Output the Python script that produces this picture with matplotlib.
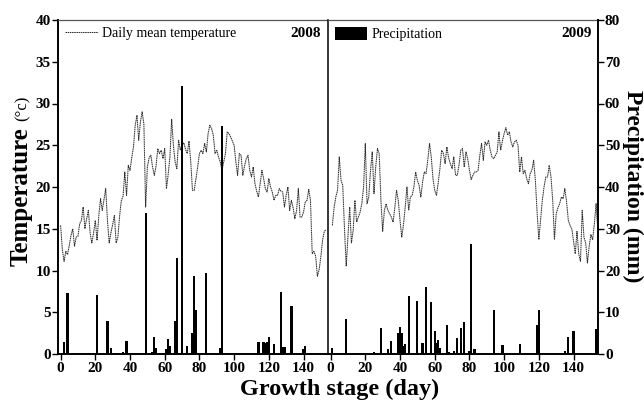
import matplotlib
matplotlib.use("Agg")
import matplotlib.pyplot as plt
from matplotlib.font_manager import FontProperties

plt.rcParams['font.family'] = ['Liberation Serif', 'DejaVu Serif']

# ---------------- data ----------------
days_t2008 = list(range(0, 154))
temp_2008 = [15.4, 12.5, 11.1, 12.3, 11.9, 13.0, 14.2, 15.0, 12.9, 14.0,
             14.1, 15.6, 16.0, 17.6, 15.0, 16.2, 17.2, 14.5, 13.3, 14.5,
             16.0, 13.6, 16.5, 18.6, 17.2, 18.5, 19.8, 16.0, 13.3, 14.5,
             15.5, 16.6, 13.3, 14.0, 16.5, 18.4, 18.9, 21.8, 19.0, 22.6,
             22.0, 23.5, 24.8, 27.4, 28.6, 25.6, 27.8, 29.0, 27.5, 17.6,
             22.4, 23.5, 23.8, 22.4, 21.4, 22.5, 24.6, 24.0, 24.4, 23.4,
             24.6, 19.8, 21.5, 23.6, 28.1, 25.0, 23.0, 22.2, 25.6, 24.4,
             25.0, 25.3, 24.5, 24.0, 25.5, 23.0, 19.6, 19.6, 21.0, 22.4,
             24.0, 24.4, 24.0, 25.2, 24.2, 26.4, 27.4, 27.0, 26.2, 24.0,
             24.4, 23.6, 23.0, 22.0, 23.0, 24.0, 26.6, 26.4, 26.0, 25.5,
             25.0, 23.0, 21.4, 24.0, 23.8, 21.4, 22.5, 23.4, 23.8, 22.0,
             21.2, 22.4, 20.4, 19.5, 18.8, 20.4, 22.0, 21.0, 19.8, 19.4,
             21.0, 20.0, 19.4, 18.4, 19.0, 19.0, 19.8, 19.5, 19.4, 17.6,
             19.0, 20.0, 17.2, 18.4, 17.5, 16.2, 17.2, 19.8, 16.4, 16.4,
             17.0, 18.2, 18.4, 19.7, 18.4, 12.0, 12.3, 11.7, 9.3, 10.1,
             11.7, 13.7, 14.7, 14.9]

days_t2009 = list(range(1, 155))
temp_2009 = [15.4, 17.5, 18.8, 19.6, 23.6, 20.8, 20.2, 15.0, 10.5, 14.0,
             17.6, 13.3, 14.8, 18.4, 15.8, 16.4, 17.0, 18.0, 20.0, 25.2,
             18.0, 18.8, 22.0, 24.2, 19.2, 22.4, 24.6, 24.0, 18.4, 14.7,
             17.2, 18.0, 17.2, 16.8, 16.4, 15.8, 17.5, 19.6, 18.4, 16.0,
             14.0, 15.5, 17.6, 20.0, 17.2, 18.8, 19.0, 20.0, 21.8, 20.8,
             20.2, 18.8, 20.6, 21.8, 21.6, 23.2, 25.2, 23.6, 21.0, 19.6,
             19.0, 20.5, 22.2, 24.4, 24.0, 22.8, 24.8, 23.5, 22.8, 22.2,
             23.6, 21.4, 21.4, 22.6, 24.4, 24.6, 22.4, 24.2, 23.4, 22.0,
             20.9, 21.4, 21.8, 21.8, 22.0, 23.8, 25.2, 23.2, 25.4, 25.0,
             25.6, 24.4, 23.6, 23.4, 23.8, 24.2, 26.6, 24.4, 25.5, 26.4,
             27.1, 26.2, 26.6, 25.4, 24.8, 25.4, 25.6, 25.0, 21.8, 23.6,
             21.6, 22.0, 21.0, 20.4, 21.6, 22.0, 23.2, 20.8, 17.0, 13.7,
             16.0, 18.4, 20.0, 21.2, 21.2, 22.6, 21.2, 18.4, 13.7, 16.8,
             17.5, 18.0, 18.8, 18.6, 19.8, 18.2, 16.0, 15.4, 15.0, 13.5,
             12.0, 14.7, 12.0, 11.1, 17.2, 14.0, 13.3, 10.9, 12.9, 14.3,
             13.7, 15.6, 18.0, 14.9]

rain_days_2008 = [2, 4, 16, 21, 27, 29, 31, 32, 36, 38, 49, 53, 54, 55, 59, 61,
                  62, 63, 66, 67, 70, 73, 76, 77, 78, 79, 84, 92, 93, 113, 114,
                  117, 118, 119, 120, 123, 127, 128, 129, 133, 140, 141, 145]
rain_2008 = [2.9, 14.5, 0.3, 14.1, 7.9, 1.5, 0.2, 0.2, 0.4, 3.1, 33.8, 0.4, 4.0,
             1.4, 0.2, 1.3, 3.7, 2.0, 7.9, 23.0, 64.2, 1.8, 5.0, 18.6, 10.6,
             0.3, 19.4, 1.5, 54.6, 0.3, 2.9, 2.9, 2.6, 2.8, 4.1, 2.4, 14.8,
             1.7, 1.7, 11.4, 1.2, 1.8, 0.2]

rain_days_2009 = [1, 9, 15, 16, 25, 29, 33, 35, 39, 40, 41, 42, 43, 45, 50, 53,
                  55, 58, 60, 61, 62, 63, 67, 68, 70, 71, 73, 75, 77, 80, 81, 83,
                  94, 99, 109, 112, 119, 120, 128, 135, 137, 140, 153]
rain_2009 = [1.4, 8.4, 0.2, 0.2, 0.4, 6.2, 1.3, 3.0, 5.0, 6.5, 5.0, 2.0, 2.4,
             13.9, 12.6, 2.6, 16.0, 12.5, 5.4, 2.6, 3.4, 1.4, 6.9, 0.4, 0.2,
             0.6, 3.8, 6.2, 7.6, 0.6, 26.3, 1.3, 10.5, 2.1, 2.5, 0.2, 6.9,
             10.5, 0.2, 0.6, 4.1, 5.4, 6.0]

x_ticks = [0, 20, 40, 60, 80, 100, 120, 140]
temp_ticks = [0, 5, 10, 15, 20, 25, 30, 35, 40]
rain_ticks = [0, 10, 20, 30, 40, 50, 60, 70, 80]

# ---------------- figure ----------------
W, H = 644, 404
fig = plt.figure(figsize=(W / 100, H / 100), dpi=100)

left0, top0, bottom0 = 58, 20, 354
pw = 270
ax1 = fig.add_axes([left0 / W, 1 - bottom0 / H, pw / W, (bottom0 - top0) / H])
ax2 = fig.add_axes([(left0 + pw) / W, 1 - bottom0 / H, pw / W, (bottom0 - top0) / H])
ax2.patch.set_visible(False)
ax1r = ax1.twinx()
ax2r = ax2.twinx()

tick_fp = FontProperties(family='Liberation Serif', weight='bold', size=11)
line_kw = dict(color='#333333', lw=0.75, ls=(0, (1.5, 0.6)))
bar_kw = dict(color='black', width=1.3, align='center', linewidth=0)

l1, = ax1.plot(days_t2008, temp_2008, label='Daily mean temperature', zorder=2, **line_kw)
ax1r.bar(rain_days_2008, rain_2008, zorder=3, **bar_kw)
ax2.plot(days_t2009, temp_2009, zorder=2, **line_kw)
b2 = ax2r.bar(rain_days_2009, rain_2009, label='Precipitation', zorder=3, **bar_kw)

for a in (ax1, ax2):
    a.set_xlim(-1.5, 154.1)
    a.set_ylim(0, 40)
    a.set_xticks(x_ticks)
for a in (ax1r, ax2r):
    a.set_ylim(0, 80)

ax1.set_yticks(temp_ticks)
ax1.tick_params(axis='y', direction='out', length=4, width=1, pad=1, left=True, right=False)
ax1.tick_params(axis='x', direction='out', length=4, width=1, pad=1.5)
ax2.tick_params(axis='x', direction='out', length=4, width=1, pad=1.5)
ax2.tick_params(axis='y', left=False, labelleft=False)
ax1r.tick_params(axis='y', right=False, labelright=False)
ax2r.set_yticks(rain_ticks)
ax2r.tick_params(axis='y', direction='out', length=4, width=1, pad=1, right=True, labelright=True)

for a in (ax1, ax2, ax2r):
    for lab in a.get_xticklabels() + a.get_yticklabels():
        lab.set_fontproperties(tick_fp)

for a in (ax1, ax2, ax1r, ax2r):
    for s in a.spines.values():
        s.set_visible(False)
ax1.spines['left'].set_visible(True)
ax1.spines['left'].set_linewidth(1.4)
ax1.spines['bottom'].set_visible(True)
ax1.spines['bottom'].set_linewidth(1.4)
ax1.spines['top'].set_visible(True)
ax1.spines['top'].set_linewidth(0.9)
ax1.spines['top'].set_color('#555555')
ax2.spines['left'].set_visible(True)
ax2.spines['left'].set_linewidth(1.1)
ax2.spines['bottom'].set_visible(True)
ax2.spines['bottom'].set_linewidth(1.4)
ax2.spines['top'].set_visible(True)
ax2.spines['top'].set_linewidth(0.9)
ax2.spines['top'].set_color('#555555')
ax2r.spines['right'].set_visible(True)
ax2r.spines['right'].set_linewidth(1.4)

ax1.legend(handles=[l1], loc='upper left', frameon=False,
           prop=dict(family='Liberation Serif', size=10),
           handlelength=2.4, handletextpad=0.25, borderpad=0.2,
           borderaxespad=0.3)
ax2r.legend(handles=[b2], loc='upper left', frameon=False,
            prop=dict(family='Liberation Serif', size=10),
            handlelength=2.3, handleheight=1.1, handletextpad=0.3,
            borderpad=0.2, borderaxespad=0.3)

ax1.text(0.975, 0.96, '2008', transform=ax1.transAxes, ha='right', va='center',
         fontsize=11, fontweight='bold')
ax2.text(0.975, 0.96, '2009', transform=ax2.transAxes, ha='right', va='center',
         fontsize=11, fontweight='bold')

fig.text(340 / W, 1 - 389 / H, 'Growth stage (day)', ha='center', va='center',
         fontsize=17.5, fontweight='bold')
fig.text(21 / W, 1 - 197 / H, 'Temperature', ha='center', va='center',
         rotation=90, fontsize=18, fontweight='bold')
fig.text(23 / W, 1 - 108 / H, '(°c)', ha='center', va='center',
         rotation=90, fontsize=12)
fig.text(633 / W, 1 - 186 / H, 'Precipitation (mm)', ha='center', va='center',
         rotation=-90, fontsize=17, fontweight='bold')

fig.savefig('out.png', dpi=100)
